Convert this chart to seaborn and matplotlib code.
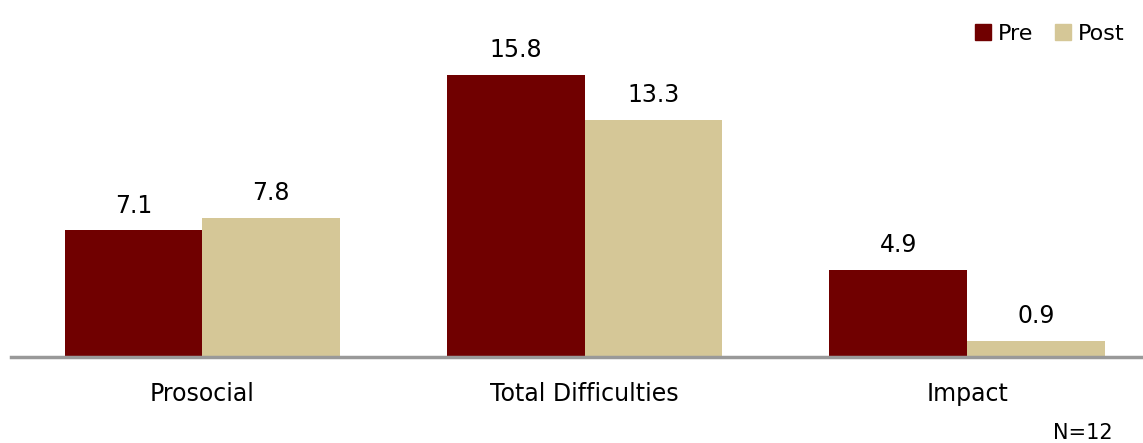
import pandas as pd
import matplotlib.pyplot as plt
import seaborn as sns

categories = ['Prosocial', 'Total Difficulties', 'Impact']
pre = [7.1, 15.8, 4.9]
post = [7.8, 13.3, 0.9]
series = ['Pre', 'Post']
colors = ['#700000', '#D5C797']

data = pd.DataFrame({
    'category': categories * 2,
    'value': pre + post,
    'time': ['Pre'] * 3 + ['Post'] * 3,
})

sns.set_style('white')
plt.rcParams['font.family'] = ['DejaVu Sans']
plt.rcParams['text.color'] = 'black'
plt.rcParams['xtick.color'] = 'black'

fig = plt.figure(figsize=(11.43, 4.43), dpi=100)
ax = fig.add_axes([11 / 1143, 86 / 443, 1 - 11 / 1143, 357 / 443])

sns.barplot(data=data, x='category', y='value', hue='time', hue_order=series,
            palette=colors, width=0.72, saturation=1, linewidth=0,
            ax=ax, legend=False)

for container in ax.containers:
    ax.bar_label(container, fmt='%.1f', padding=9, fontsize=17, color='black')

ax.set_xlim(-0.5, 2.46)
ax.set_ylim(0, 20)
ax.set_xlabel('')
ax.set_ylabel('')
ax.set_yticks([])
ax.tick_params(axis='x', length=0, pad=18, labelsize=17, labelcolor='black')
for side in ['top', 'right', 'left']:
    ax.spines[side].set_visible(False)
ax.spines['bottom'].set_color('#999999')
ax.spines['bottom'].set_linewidth(2.5)

handles = [plt.Rectangle((0, 0), 1, 1, color=c) for c in colors]
ax.legend(handles, series, loc='upper right', bbox_to_anchor=(0.995, 0.97), ncol=2,
          frameon=False, fontsize=16, handlelength=0.7, handleheight=0.7,
          handletextpad=0.3, columnspacing=1.0, borderaxespad=0.2)

fig.text(1083 / 1143, 10 / 443, 'N=12', ha='center', va='center', fontsize=15)

fig.savefig('out.png', dpi=100)
